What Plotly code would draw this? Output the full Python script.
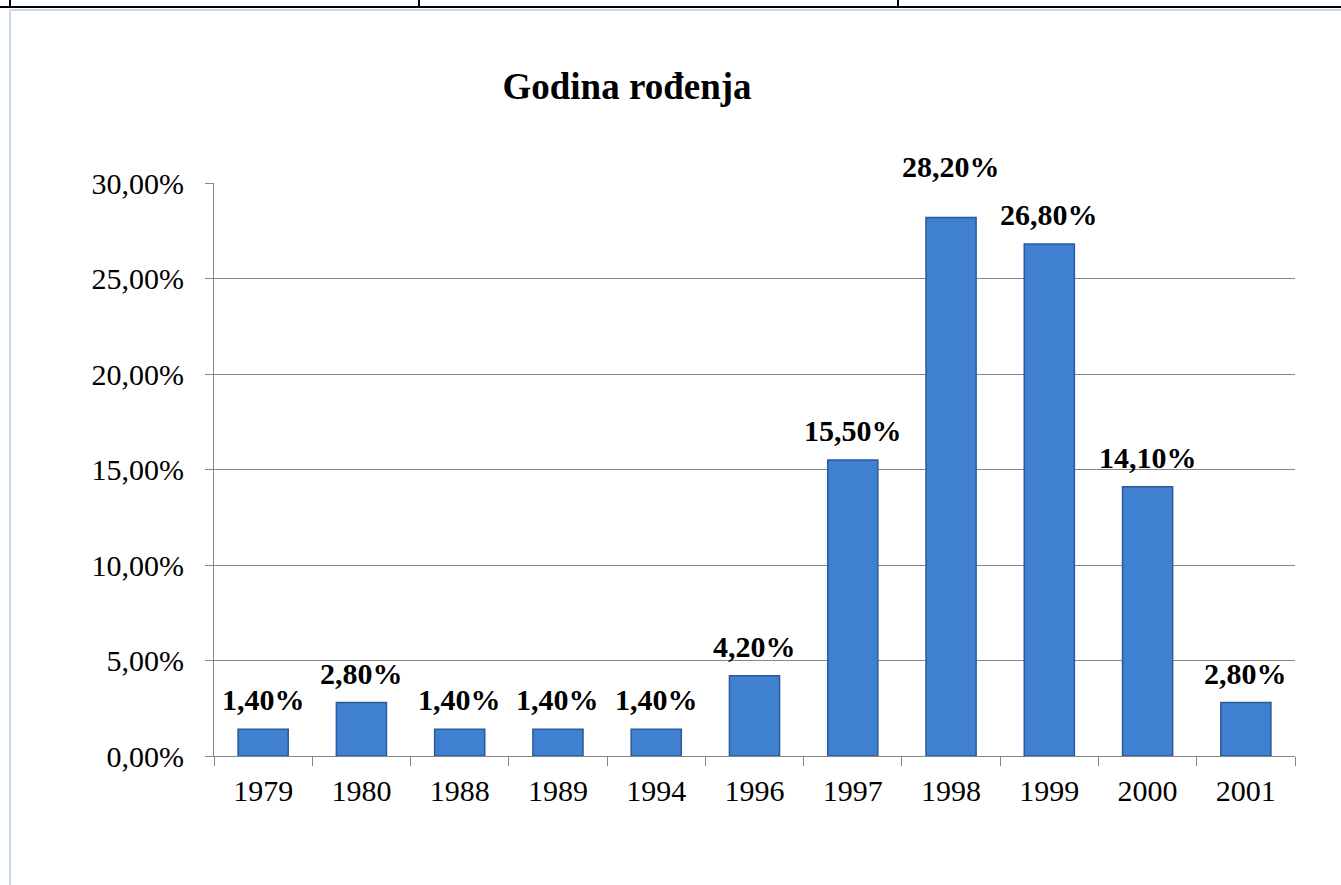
import plotly.graph_objects as go

# ---- data ----
years = ["1979", "1980", "1988", "1989", "1994", "1996", "1997", "1998", "1999", "2000", "2001"]
percent = [1.40, 2.80, 1.40, 1.40, 1.40, 4.20, 15.50, 28.20, 26.80, 14.10, 2.80]
y_ticks = [0, 5, 10, 15, 20, 25, 30]
y_tick_labels = ["0,00%", "5,00%", "10,00%", "15,00%", "20,00%", "25,00%", "30,00%"]
title_text = "Godina rođenja"

# ---- layout geometry (pixels) ----
W, H = 1341, 885
L, R, T, B = 214, 1295, 183, 756
PW, PH = R - L, B - T

FONT = "Liberation Serif, Times New Roman, serif"


def fmt(v):
    return f"{v:.2f}".replace(".", ",") + "%"


fig = go.Figure()
fig.add_trace(go.Bar(
    x=years, y=percent,
    marker=dict(color="#4080D0", line=dict(color="#2A5A98", width=1.5)),
    hoverinfo="x+y",
))

# data labels (x given as category index)
annotations = []
for i, v in enumerate(percent):
    shift = 32 if v == max(percent) else 11
    annotations.append(dict(
        x=i, y=v, xref="x", yref="y", text=fmt(v), showarrow=False,
        yanchor="bottom", yshift=shift,
        font=dict(family=FONT, size=30, color="black", weight="bold"),
    ))


def px_x(px):
    return (px - L) / PW


def px_y(py):
    return (B - py) / PH


# page decorations (document table border and frame)
shapes = [
    dict(type="line", xref="paper", yref="paper", x0=px_x(0), x1=px_x(W), y0=px_y(7), y1=px_y(7),
         line=dict(color="black", width=2)),
    dict(type="line", xref="paper", yref="paper", x0=px_x(10), x1=px_x(W), y0=px_y(10), y1=px_y(10),
         line=dict(color="#C6D9F1", width=2)),
    dict(type="line", xref="paper", yref="paper", x0=px_x(10), x1=px_x(10), y0=px_y(10), y1=px_y(H),
         line=dict(color="#C6D9F1", width=2)),
]
for vx in (10, 419, 898):
    shapes.append(dict(type="line", xref="paper", yref="paper", x0=px_x(vx), x1=px_x(vx),
                       y0=px_y(0), y1=px_y(7), line=dict(color="black", width=2)))

fig.update_layout(
    width=W, height=H,
    margin=dict(l=L, r=W - R, t=T, b=H - B, pad=0),
    paper_bgcolor="white", plot_bgcolor="white",
    bargap=0.49,
    showlegend=False,
    font=dict(family=FONT, size=30, color="black"),
    title=dict(text=title_text, x=627 / W, xref="container", xanchor="center",
               y=1 - 86 / H, yref="container", yanchor="middle",
               font=dict(family=FONT, size=37, color="black", weight="bold")),
    annotations=annotations,
    shapes=shapes,
)
fig.update_xaxes(
    type="category", categoryorder="array", categoryarray=years,
    range=[-0.5, len(years) - 0.5], autorange=False,
    tickson="boundaries", ticks="outside", ticklen=9, tickcolor="#868686",
    showline=True, linecolor="#868686", linewidth=1, showgrid=False,
    tickfont=dict(family=FONT, size=30, color="black"), ticklabelstandoff=8, tickangle=0,
)
fig.update_yaxes(
    range=[0, 30], autorange=False, tickvals=y_ticks, ticktext=y_tick_labels,
    ticks="outside", ticklen=8, tickcolor="#868686",
    showline=True, linecolor="#868686", linewidth=1,
    showgrid=True, gridcolor="#868686", gridwidth=1, zeroline=False,
    tickfont=dict(family=FONT, size=30, color="black"), ticklabelstandoff=15,
)

fig.write_html("out.html", config={"displayModeBar": False},
               post_script="document.body.style.margin='0';document.body.style.overflow='hidden';")
